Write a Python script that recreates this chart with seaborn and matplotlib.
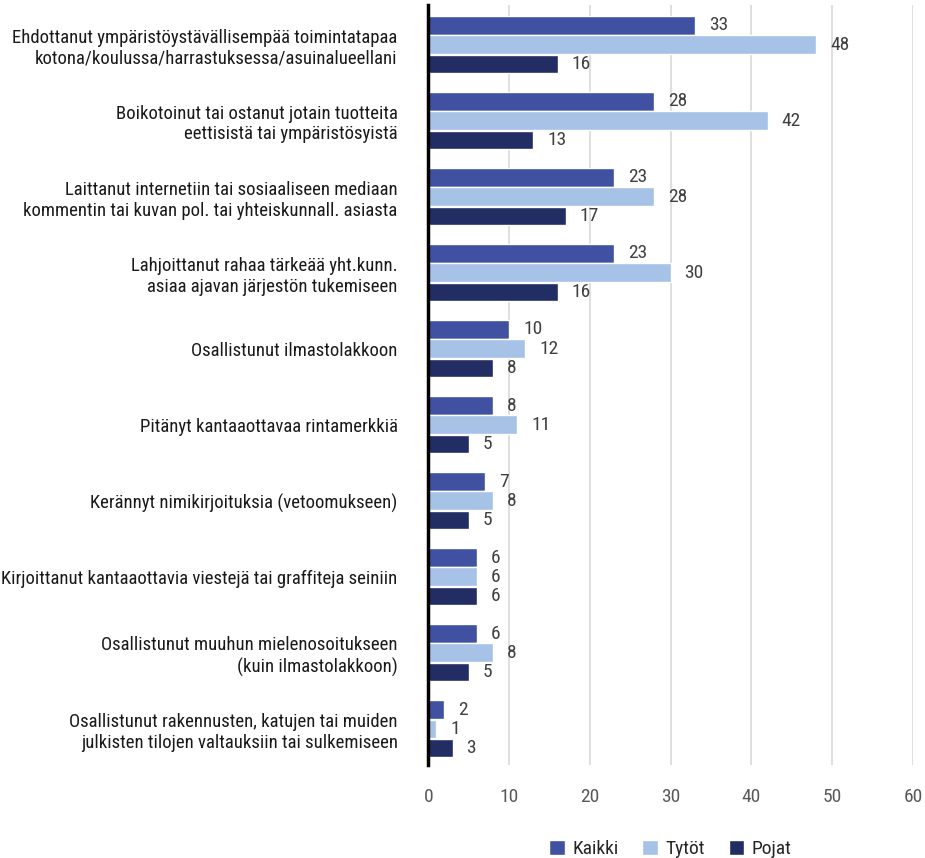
import pandas as pd
import matplotlib.pyplot as plt
import seaborn as sns
from matplotlib import font_manager

categories = [
    'Ehdottanut ympäristöystävällisempää toimintatapaa\nkotona/koulussa/harrastuksessa/asuinalueellani',
    'Boikotoinut tai ostanut jotain tuotteita\neettisistä tai ympäristösyistä',
    'Laittanut internetiin tai sosiaaliseen mediaan\nkommentin tai kuvan pol. tai yhteiskunnall. asiasta',
    'Lahjoittanut rahaa tärkeää yht.kunn.\nasiaa ajavan järjestön tukemiseen',
    'Osallistunut ilmastolakkoon',
    'Pitänyt kantaaottavaa rintamerkkiä',
    'Kerännyt nimikirjoituksia (vetoomukseen)',
    'Kirjoittanut kantaaottavia viestejä tai graffiteja seiniin',
    'Osallistunut muuhun mielenosoitukseen\n(kuin ilmastolakkoon)',
    'Osallistunut rakennusten, katujen tai muiden\njulkisten tilojen valtauksiin tai sulkemiseen',
]
kaikki = [33, 28, 23, 23, 10, 8, 7, 6, 6, 2]
tytot = [48, 42, 28, 30, 12, 11, 8, 6, 8, 1]
pojat = [16, 13, 17, 16, 8, 5, 5, 6, 5, 3]
series = ['Kaikki', 'Tytöt', 'Pojat']
colors = ['#3F51A0', '#A6C2E6', '#212D63']
xticks = [0, 10, 20, 30, 40, 50, 60]

available = {f.name for f in font_manager.fontManager.ttflist}
family = 'DejaVu Sans'
for cand in ['Roboto Condensed', 'Liberation Sans Narrow', 'Open Sans Condensed']:
    if cand in available:
        family = cand
        break

sns.set_style('white')
plt.rcParams['font.family'] = [family, 'DejaVu Sans']

df = pd.DataFrame({
    'kat': categories * 3,
    'sarja': [s for s in series for _ in categories],
    'arvo': kaikki + tytot + pojat,
})

fig = plt.figure(figsize=(9.25, 8.58), dpi=100)
ax = fig.add_axes([0.463, 0.108, 0.524, 0.886])
sns.barplot(data=df, y='kat', x='arvo', hue='sarja', palette=colors,
            orient='h', width=0.76, gap=0.03, saturation=1, ax=ax, legend=True)

for cont in ax.containers:
    ax.bar_label(cont, padding=10, fontsize=14, color='#404040')

ax.set_xlim(0, 60)
ax.set_ylim(9.48, -0.52)
ax.set_xticks(xticks)
ax.tick_params(axis='x', labelsize=14, labelcolor='#595959', length=0, pad=16)
ax.tick_params(axis='y', labelsize=13.5, labelcolor='#1a1a1a', length=0, pad=22)
ax.set_xlabel('')
ax.set_ylabel('')
ax.grid(axis='x', color='#d9d9d9', linewidth=1.2)
ax.set_axisbelow(True)
for s in ['top', 'right', 'bottom']:
    ax.spines[s].set_visible(False)
ax.spines['left'].set_color('black')
ax.spines['left'].set_linewidth(2.5)
for lab in ax.get_yticklabels():
    lab.set_horizontalalignment('right')
    lab.set_multialignment('right')

ax.legend(loc='upper center', bbox_to_anchor=(0.5, -0.075), ncol=3,
          frameon=False, fontsize=14, handlelength=0.8, handleheight=0.8,
          handletextpad=0.4, columnspacing=1.2)

fig.savefig('out.png', dpi=100)
